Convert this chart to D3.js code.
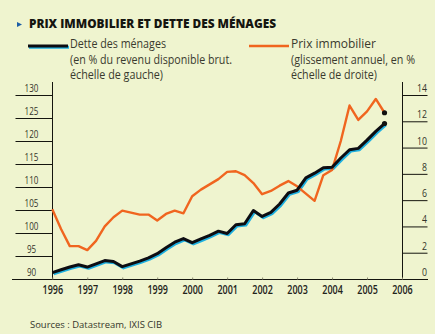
<!DOCTYPE html>
<html>
<head>
<meta charset="utf-8">
<script src="https://cdn.jsdelivr.net/npm/d3@7"></script>
<style>
	html, body { margin: 0; padding: 0; background: #eff4cf; }
	svg { display: block; }
	text { font-family: "Open Sans", "DejaVu Sans", sans-serif; fill: #2e2e24; }
</style>
</head>
<body>
<svg id="chart" width="435" height="334"></svg>
<script>
// quarterly observations, 1996 Q1 .. 2005 Q3
const quarters = [1996.00, 1996.25, 1996.50, 1996.75, 1997.00, 1997.25, 1997.50, 1997.75,
	1998.00, 1998.25, 1998.50, 1998.75, 1999.00, 1999.25, 1999.50, 1999.75,
	2000.00, 2000.25, 2000.50, 2000.75, 2001.00, 2001.25, 2001.50, 2001.75,
	2002.00, 2002.25, 2002.50, 2002.75, 2003.00, 2003.25, 2003.50, 2003.75,
	2004.00, 2004.25, 2004.50, 2004.75, 2005.00, 2005.25, 2005.50];

// household debt, % of gross disposable income (left scale)
const dette = [91.4, 92.0, 92.6, 93.1, 92.6, 93.3, 94.0, 93.8,
	92.7, 93.3, 93.9, 94.6, 95.5, 96.8, 98.0, 98.8,
	97.9, 98.7, 99.5, 100.4, 99.9, 101.8, 102.0, 104.9,
	103.6, 104.5, 106.3, 108.7, 109.3, 112.0, 113.0, 114.2,
	114.3, 116.3, 118.1, 118.4, 120.2, 122.1, 123.8];

// house prices, year-on-year change in % (right scale)
const prix = [5.3, 3.8, 2.5, 2.5, 2.2, 2.9, 4.0, 4.7,
	5.2, 5.05, 4.9, 4.9, 4.45, 4.95, 5.2, 5.0,
	6.3, 6.8, 7.2, 7.6, 8.15, 8.2, 7.9, 7.3,
	6.45, 6.7, 7.1, 7.45, 7.05, 6.5, 5.95, 7.9,
	8.3, 10.5, 13.2, 12.1, 12.75, 13.7, 12.65];

const years = [1996, 1997, 1998, 1999, 2000, 2001, 2002, 2003, 2004, 2005, 2006];
const leftTicks = [90, 95, 100, 105, 110, 115, 120, 125, 130];
const rightTicks = [0, 2, 4, 6, 8, 10, 12, 14];

const svg = d3.select("#chart");

const x = d3.scaleLinear().domain([1996, 2006]).range([52.3, 402]);
const yLeft = d3.scaleLinear().domain([90, 130]).range([279, 95]);
const yRight = d3.scaleLinear().domain([0, 14]).range([279, 95]);

const ORANGE = "#f0651f";
const CYAN = "#1eb0e0";

// title
svg.append("path")
	.attr("d", "M17,22 L22,24.5 L17,27 Z")
	.attr("fill", "#1c5ea6");
svg.append("text")
	.attr("x", 29).attr("y", 27.5)
	.attr("font-size", 12.5).attr("font-weight", 800)
	.attr("textLength", 247).attr("lengthAdjust", "spacingAndGlyphs")
	.style("fill", "#151510")
	.text("PRIX IMMOBILIER ET DETTE DES MÉNAGES");

// legend
function legendBlock(x0, lines, widths) {
	lines.forEach((t, i) => {
		svg.append("text")
			.attr("x", x0).attr("y", 48 + i * 15.5)
			.attr("font-size", 11.8)
			.attr("textLength", widths[i]).attr("lengthAdjust", "spacingAndGlyphs")
			.style("fill", "#3a3a2e")
			.text(t);
	});
}
svg.append("line").attr("x1", 29).attr("x2", 69).attr("y1", 47.3).attr("y2", 47.3)
	.attr("stroke", CYAN).attr("stroke-width", 3);
svg.append("line").attr("x1", 28).attr("x2", 68).attr("y1", 46).attr("y2", 46)
	.attr("stroke", "#0d0d12").attr("stroke-width", 3);
legendBlock(70, ["Dette des ménages", "(en % du revenu disponible brut.", "échelle de gauche)"], [96, 162, 93]);

svg.append("line").attr("x1", 249).attr("x2", 289).attr("y1", 46).attr("y2", 46)
	.attr("stroke", ORANGE).attr("stroke-width", 2.6);
legendBlock(291, ["Prix immobilier", "(glissement annuel, en %", "échelle de droite)"], [85, 124, 86]);

// axes frame
const frame = svg.append("g").attr("stroke", "#15150f").attr("stroke-width", 1);
frame.append("line").attr("x1", 12).attr("x2", 428).attr("y1", 279.5).attr("y2", 279.5);
frame.append("line").attr("x1", 52.5).attr("x2", 52.5).attr("y1", 82).attr("y2", 279.5);
frame.append("line").attr("x1", 402.5).attr("x2", 402.5).attr("y1", 82).attr("y2", 279.5);

// left scale: tick lines run out to the margin, labels sit on them
const gl = svg.append("g").attr("transform", "translate(52.5,0)")
	.call(d3.axisLeft(yLeft).tickValues(leftTicks).tickSize(37).tickSizeOuter(0));
gl.select(".domain").remove();
gl.selectAll(".tick line").attr("stroke", "#15150f");
gl.selectAll(".tick text")
	.attr("x", -21).attr("dy", -3.5)
	.attr("text-anchor", "middle")
	.attr("font-family", "'Open Sans', sans-serif")
	.attr("font-size", 10.5)
	.style("fill", "#34342a")
	.each(function() {
		d3.select(this).attr("textLength", this.textContent.length * 4.6).attr("lengthAdjust", "spacingAndGlyphs");
	});
gl.selectAll(".tick").filter(d => d === 90).select("line").remove();

const gr = svg.append("g").attr("transform", "translate(402.5,0)")
	.call(d3.axisRight(yRight).tickValues(rightTicks).tickSize(25).tickSizeOuter(0));
gr.select(".domain").remove();
gr.selectAll(".tick line").attr("stroke", "#15150f");
gr.selectAll(".tick text")
	.attr("x", 24.5).attr("dy", -3.5)
	.attr("text-anchor", "end")
	.attr("font-family", "'Open Sans', sans-serif")
	.attr("font-size", 10.5)
	.style("fill", "#34342a")
	.each(function() {
		d3.select(this).attr("textLength", this.textContent.length * 5).attr("lengthAdjust", "spacingAndGlyphs");
	});
gr.selectAll(".tick").filter(d => d === 0).select("line").remove();

// year axis
const gx = svg.append("g").attr("transform", "translate(0,279.5)")
	.call(d3.axisBottom(x).tickValues(years).tickFormat(d3.format("d")).tickSize(-2).tickPadding(6));
gx.select(".domain").remove();
gx.selectAll(".tick line").attr("stroke", "#8a8a70");
gx.selectAll(".tick text")
	.attr("font-family", "'Open Sans', sans-serif")
	.attr("font-size", 12).attr("font-weight", 600)
	.attr("textLength", 20.5).attr("lengthAdjust", "spacingAndGlyphs")
	.style("fill", "#23231a");

// series
const lineLeft = d3.line().x((d, i) => x(quarters[i])).y(d => yLeft(d));
const lineRight = d3.line().x((d, i) => x(quarters[i])).y(d => yRight(d));

const plot = svg.append("g");
plot.append("path").datum(dette)
	.attr("transform", "translate(1.3,1.4)")
	.attr("fill", "none").attr("stroke", CYAN).attr("stroke-width", 2.8)
	.attr("stroke-linejoin", "round")
	.attr("d", lineLeft);
plot.append("path").datum(prix)
	.attr("fill", "none").attr("stroke", ORANGE).attr("stroke-width", 2.4)
	.attr("stroke-linejoin", "round")
	.attr("d", lineRight);
plot.append("path").datum(dette)
	.attr("fill", "none").attr("stroke", "#0d0d12").attr("stroke-width", 3)
	.attr("stroke-linejoin", "round")
	.attr("d", lineLeft);

// end-of-series markers
const last = quarters.length - 1;
plot.append("circle").attr("cx", x(quarters[last])).attr("cy", yRight(prix[last])).attr("r", 2.6).attr("fill", "#111");
plot.append("circle").attr("cx", x(quarters[last])).attr("cy", yLeft(dette[last])).attr("r", 2.6).attr("fill", "#111");

// source
svg.append("text")
	.attr("x", 30).attr("y", 328)
	.attr("font-size", 9.5)
	.attr("textLength", 132).attr("lengthAdjust", "spacingAndGlyphs")
	.style("fill", "#34342a")
	.text("Sources : Datastream, IXIS CIB");
</script>
</body>
</html>
